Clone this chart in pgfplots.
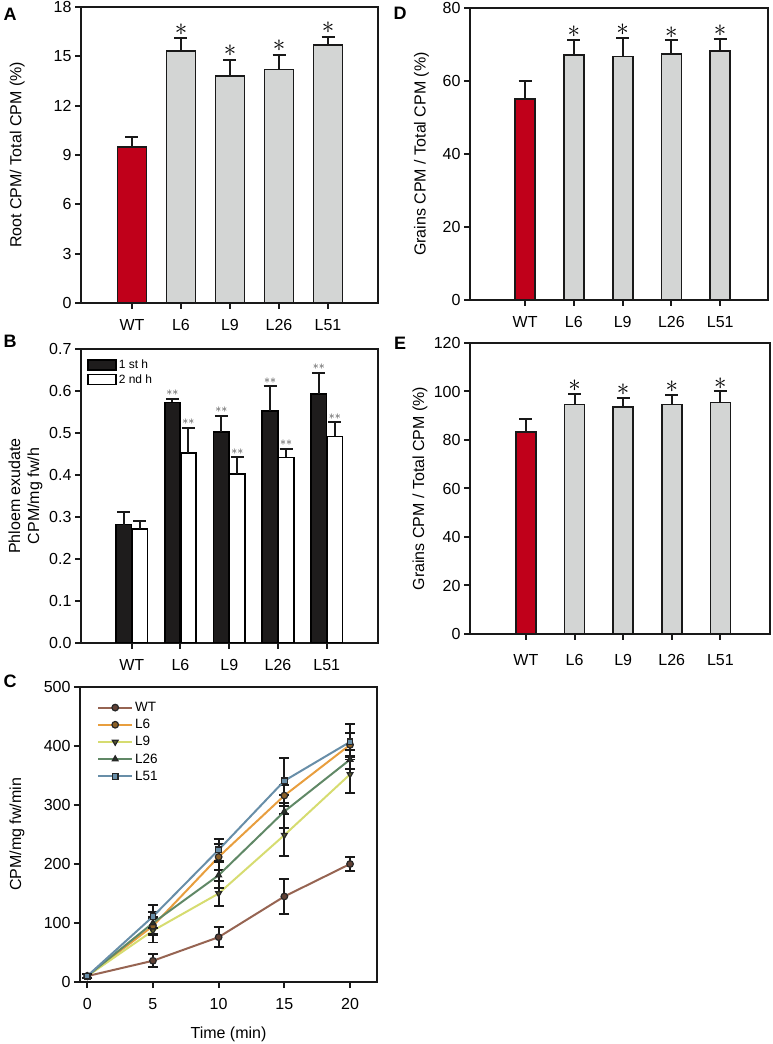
\documentclass[border=0pt]{standalone}
\usepackage{pgfplots}
\pgfplotsset{compat=1.18}
\usepackage{fontspec}
\setmainfont{Liberation Sans}
\definecolor{barred}{RGB}{192,0,26}
\definecolor{bargray}{RGB}{211,213,212}
\definecolor{barblack}{RGB}{30,28,28}
\definecolor{cwt}{RGB}{150,100,82}
\definecolor{cl6}{RGB}{232,158,62}
\definecolor{cl9}{RGB}{214,220,112}
\definecolor{cl26}{RGB}{96,136,102}
\definecolor{cl51}{RGB}{104,142,168}
\pgfplotsset{
  myaxis/.style={
    scale only axis,
    axis line style={line width=2pt, black!90},
    tick align=outside,
    tick pos=left,
    major tick length=6pt,
    major tick style={line width=2pt, black!90},
    tick label style={font=\fontsize{16}{16}\selectfont},
    xticklabel style={yshift=-7pt},
    /pgf/number format/assume math mode=true,
    label style={font=\fontsize{16}{19}\selectfont},
    ymin=0,
  },
  mybar/.style={
    myaxis, ybar,
    xtick={0,1,2,3,4}, xticklabels={WT,L6,L9,L26,L51},
  },
  eb/.style={
    error bars/y dir=plus, error bars/y explicit,
    error bars/error bar style={line width=2pt, black!90, solid},
    error bars/error mark=-,
    error bars/error mark options={rotate=90, line width=2pt, mark size=6.5pt, black!90, solid},
  },
}
\tikzset{
  bigstar/.style={font=\fontsize{24.88}{24}\selectfont, anchor=center, yshift=9pt, inner sep=0pt},
  smallstar/.style={font=\fontsize{12}{12}\selectfont, anchor=center, yshift=6pt, inner sep=0pt, black!75},
  panel/.style={font=\fontsize{18}{18}\selectfont\bfseries, anchor=center},
}
\begin{document}
\begin{tikzpicture}
\useasboundingbox (0,0) rectangle (772pt,1044pt);
% Panel labels
\node[panel] at (10pt,1030pt) {A};
\node[panel] at (10pt,703pt) {B};
\node[panel] at (10pt,363pt) {C};
\node[panel] at (400pt,1031pt) {D};
\node[panel] at (400pt,701pt) {E};

% ---------------- A ----------------
\begin{axis}[mybar, at={(81pt,741pt)}, anchor=south west, width=297pt, height=296pt,
  xmin=-1.04, xmax=5.02, ymax=18, ytick={0,3,6,9,12,15,18}, bar width=29pt,
  ylabel={Root CPM/ Total CPM (\%)},
  y label style={at={(axis description cs:-0.215,0.5)}, anchor=center}]
\addplot[fill=barred, draw=black!90, line width=1.8pt, bar shift=0pt, eb] coordinates {(0,9.5) +- (0,0.6)};
\addplot[fill=bargray, draw=black!90, line width=1.8pt, bar shift=0pt, eb] coordinates {
 (1,15.3) +- (0,0.8) (2,13.8) +- (0,1.0) (3,14.2) +- (0,0.9) (4,15.7) +- (0,0.5)};
\node[bigstar] at (axis cs:1,16.1) {$\ast$};
\node[bigstar] at (axis cs:2,14.8) {$\ast$};
\node[bigstar] at (axis cs:3,15.1) {$\ast$};
\node[bigstar] at (axis cs:4,16.2) {$\ast$};
\end{axis}

% ---------------- B ----------------
\begin{axis}[mybar, at={(81pt,401pt)}, anchor=south west, width=297pt, height=294pt,
  xmin=-1.04, xmax=5.05, ymax=0.7, ytick={0,0.1,0.2,0.3,0.4,0.5,0.6,0.7},
  yticklabel style={/pgf/number format/.cd, fixed, fixed zerofill, precision=1},
  bar width=15.5pt,
  ylabel={Phloem exudate\\CPM/mg fw/h},
  y label style={at={(axis description cs:-0.187,0.5)}, anchor=center, align=center},
  legend style={at={(rel axis cs:0,1)}, anchor=north west, xshift=3pt, yshift=-7pt,
    draw=none, fill=none, font=\fontsize{12}{13}\selectfont, row sep=0pt},
  legend cell align=left]
\addplot[fill=barblack, draw=black, line width=1.6pt, bar shift=-8pt, eb,
  legend image code/.code={\draw[fill=barblack, draw=black, line width=1.6pt] (0pt,-5pt) rectangle (28pt,5pt);}]
  coordinates {(0,0.282) +- (0,0.029) (1,0.573) +- (0,0.008) (2,0.502) +- (0,0.039) (3,0.553) +- (0,0.058) (4,0.593) +- (0,0.050)};
\addlegendentry{1 st h}
\addplot[fill=white, draw=black, line width=1.6pt, bar shift=8pt, eb,
  legend image code/.code={\draw[fill=white, draw=black, line width=1.6pt] (0pt,-5pt) rectangle (28pt,5pt);}]
  coordinates {(0,0.271) +- (0,0.019) (1,0.452) +- (0,0.060) (2,0.402) +- (0,0.040) (3,0.442) +- (0,0.021) (4,0.492) +- (0,0.033)};
\addlegendentry{2 nd h}
\node[smallstar, xshift=-8pt] at (axis cs:1,0.581) {$\ast\ast$};
\node[smallstar, xshift=8pt] at (axis cs:1,0.512) {$\ast\ast$};
\node[smallstar, xshift=-8pt] at (axis cs:2,0.541) {$\ast\ast$};
\node[smallstar, xshift=8pt] at (axis cs:2,0.442) {$\ast\ast$};
\node[smallstar, xshift=-8pt] at (axis cs:3,0.611) {$\ast\ast$};
\node[smallstar, xshift=8pt] at (axis cs:3,0.463) {$\ast\ast$};
\node[smallstar, xshift=-8pt] at (axis cs:4,0.643) {$\ast\ast$};
\node[smallstar, xshift=8pt] at (axis cs:4,0.525) {$\ast\ast$};
\end{axis}

% ---------------- C ----------------
\begin{axis}[myaxis, at={(80pt,62pt)}, anchor=south west, width=297pt, height=295pt,
  xmin=-0.55, xmax=22.05, ymax=500, xtick={0,5,10,15,20}, ytick={0,100,200,300,400,500},
  xlabel={Time (min)}, ylabel={CPM/mg fw/min},
  x label style={yshift=-10pt},
  y label style={at={(axis description cs:-0.212,0.5)}, anchor=center},
  legend style={at={(rel axis cs:0,1)}, anchor=north west, xshift=14pt, yshift=-11pt,
    draw=none, fill=none, font=\fontsize{13.5}{15}\selectfont, row sep=2.3pt},
  legend cell align=left,
  legend image code/.code={\draw[mark repeat=2, mark phase=2, #1] plot coordinates {(0pt,0pt) (17pt,0pt) (34pt,0pt)};},
  every axis plot/.append style={line width=2pt, mark size=3.3pt,
    error bars/y dir=both, error bars/y explicit,
    error bars/error bar style={line width=1.8pt, black!90, solid},
    error bars/error mark=-,
    error bars/error mark options={rotate=90, line width=1.8pt, mark size=5pt, black!90, solid}}]
\addplot[color=cwt, mark=*, mark options={fill=cwt!65!black, draw=black!85, line width=1.2pt}]
  coordinates {(0,10) +- (0,3) (5,36) +- (0,11) (10,76) +- (0,17) (15,145) +- (0,30) (20,200) +- (0,12)};
\addlegendentry{WT}
\addplot[color=cl6, mark=*, mark options={fill=cl6!60!black, draw=black!85, line width=1.2pt}]
  coordinates {(0,10) +- (0,3) (5,95) +- (0,15) (10,212) +- (0,22) (15,316) +- (0,18) (20,402) +- (0,20)};
\addlegendentry{L6}
\addplot[color=cl9, mark=triangle*, mark options={fill=cl9!40!black, draw=black!85, line width=1.2pt, rotate=180}]
  coordinates {(0,10) +- (0,3) (5,87) +- (0,20) (10,150) +- (0,21) (15,249) +- (0,36) (20,352) +- (0,32)};
\addlegendentry{L9}
\addplot[color=cl26, mark=triangle*, mark options={fill=cl26!40!black, draw=black!85, line width=1.2pt}]
  coordinates {(0,10) +- (0,3) (5,100) +- (0,18) (10,181) +- (0,22) (15,289) +- (0,28) (20,377) +- (0,16)};
\addlegendentry{L26}
\addplot[color=cl51, mark=square*, mark size=2.8pt, mark options={fill=cl51, draw=black!85, line width=1.2pt}]
  coordinates {(0,10) +- (0,3) (5,111) +- (0,20) (10,224) +- (0,18) (15,341) +- (0,38) (20,407) +- (0,30)};
\addlegendentry{L51}
\end{axis}

% ---------------- D ----------------
\begin{axis}[mybar, at={(470pt,744pt)}, anchor=south west, width=298pt, height=292pt,
  xmin=-1.13, xmax=4.98, ymax=80, ytick={0,20,40,60,80}, bar width=20pt,
  ylabel={Grains CPM / Total CPM (\%)},
  y label style={at={(axis description cs:-0.163,0.5)}, anchor=center}]
\addplot[fill=barred, draw=black!90, line width=1.8pt, bar shift=0pt, eb] coordinates {(0,55.1) +- (0,4.8)};
\addplot[fill=bargray, draw=black!90, line width=1.8pt, bar shift=0pt, eb] coordinates {
 (1,67.2) +- (0,4.1) (2,66.7) +- (0,5.1) (3,67.5) +- (0,3.6) (4,68.3) +- (0,3.3)};
\node[bigstar, yshift=-1pt] at (axis cs:1,71.3) {$\ast$};
\node[bigstar, yshift=-1pt] at (axis cs:2,71.8) {$\ast$};
\node[bigstar, yshift=-1pt] at (axis cs:3,71.1) {$\ast$};
\node[bigstar, yshift=-1pt] at (axis cs:4,71.6) {$\ast$};
\end{axis}

% ---------------- E ----------------
\begin{axis}[mybar, at={(470pt,410pt)}, anchor=south west, width=300pt, height=291pt,
  xmin=-1.15, xmax=5.02, ymax=120, ytick={0,20,40,60,80,100,120}, bar width=20pt,
  xticklabel style={yshift=-4pt},
  ylabel={Grains CPM / Total CPM (\%)},
  y label style={at={(axis description cs:-0.167,0.5)}, anchor=center}]
\addplot[fill=barred, draw=black!90, line width=1.8pt, bar shift=0pt, eb] coordinates {(0,83.2) +- (0,5.6)};
\addplot[fill=bargray, draw=black!90, line width=1.8pt, bar shift=0pt, eb] coordinates {
 (1,94.6) +- (0,4.4) (2,93.5) +- (0,3.8) (3,94.6) +- (0,4.0) (4,95.5) +- (0,4.5)};
\node[bigstar, yshift=-1pt] at (axis cs:1,99.0) {$\ast$};
\node[bigstar, yshift=-1pt] at (axis cs:2,97.3) {$\ast$};
\node[bigstar, yshift=-1pt] at (axis cs:3,98.6) {$\ast$};
\node[bigstar, yshift=-1pt] at (axis cs:4,100.0) {$\ast$};
\end{axis}
\end{tikzpicture}
\end{document}
